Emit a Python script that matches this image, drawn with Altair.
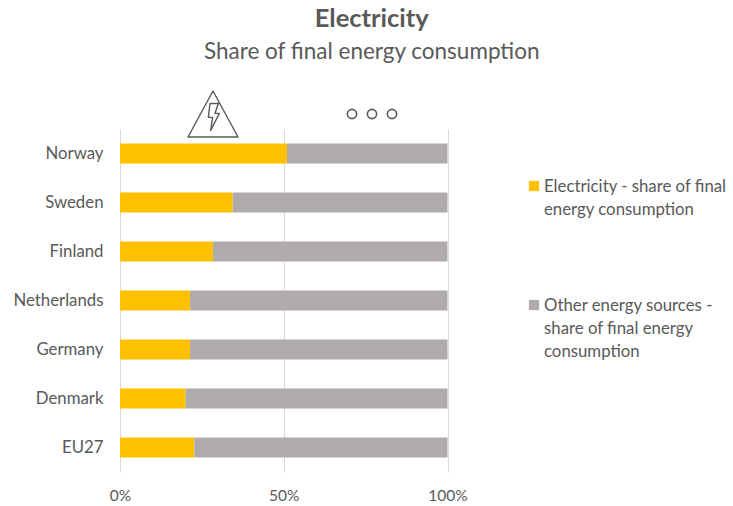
import altair as alt
import pandas as pd

countries = ["Norway", "Sweden", "Finland", "Netherlands", "Germany", "Denmark", "EU27"]
electricity = [51.0, 34.4, 28.4, 21.4, 21.4, 20.0, 22.7]
other_sources = [49.0, 65.6, 71.6, 78.6, 78.6, 80.0, 77.3]
series_names = [
    "Electricity - share of final energy consumption",
    "Other energy sources - share of final energy consumption",
]
x_ticks = [0, 50, 100]

FONT = "Lato"
TEXT = "#595959"
YELLOW = "#FFC000"
GREY = "#AFABAB"
LEFT, TOP, RIGHT, BOTTOM = 120, 129, 285.5, 34

rows = []
for i, name in enumerate(countries):
    rows.append({"country": name, "series": series_names[0], "share": electricity[i], "rank": 0})
    rows.append({"country": name, "series": series_names[1], "share": other_sources[i], "rank": 1})
table = pd.DataFrame(rows)

bars = (
    alt.Chart(table)
    .mark_bar()
    .encode(
        x=alt.X(
            "share:Q",
            stack="zero",
            scale=alt.Scale(domain=[0, 100], nice=False),
            axis=alt.Axis(
                values=x_ticks,
                title=None,
                labelExpr="datum.value + '%'",
                labelFlush=False,
                domain=False,
                ticks=False,
                grid=True,
                gridColor="#D9D9D9",
                gridWidth=1,
                labelFont=FONT,
                labelFontSize=15.5,
                labelColor=TEXT,
                labelPadding=16,
            ),
        ),
        y=alt.Y(
            "country:N",
            sort=countries,
            scale=alt.Scale(paddingInner=0.59, paddingOuter=0.295),
            axis=alt.Axis(
                title=None,
                domain=False,
                ticks=False,
                labelFont=FONT,
                labelFontSize=16.8,
                labelColor=TEXT,
                labelPadding=17,
            ),
        ),
        color=alt.Color(
            "series:N",
            scale=alt.Scale(domain=series_names, range=[YELLOW, GREY]),
            legend=None,
        ),
        order=alt.Order("rank:Q"),
    )
)

blank = alt.Data(values=[{}])


def at(px, py):
    # Page pixels converted to the plot's own coordinates
    return {"x": alt.value(px - LEFT), "y": alt.value(py - TOP)}


def key_entry(swatch, py, lines):
    square = alt.Chart(blank).mark_square(color=swatch, size=105, opacity=1).encode(**at(534, py))
    label = (
        alt.Chart(blank)
        .mark_text(
            text=lines,
            font=FONT,
            fontSize=16.8,
            color=TEXT,
            align="left",
            baseline="middle",
            lineHeight=23,
        )
        .encode(**at(544, py + 1))
    )
    return [square, label]


# Warning triangle with a lightning bolt inside
warning_path = (
    "M0,-0.46L0.5,0.46L-0.5,0.46Z"
    "M-0.06,-0.21L0.107,-0.21L0.04,-0.013L0.127,-0.013L-0.047,0.33L-0.007,0.067L-0.093,0.067Z"
)
warning = (
    alt.Chart(blank)
    .mark_point(shape=warning_path, size=10000, filled=False, stroke=TEXT, strokeWidth=1.4, strokeJoin="round", opacity=1)
    .encode(**at(213, 114))
)

# Row of three small rings
rings = [
    alt.Chart(blank)
    .mark_point(shape="circle", size=85, filled=False, stroke=TEXT, strokeWidth=1.6, opacity=1)
    .encode(**at(px, 114))
    for px in (352, 372, 392)
]

chart = (
    alt.layer(
        bars,
        warning,
        *rings,
        *key_entry(YELLOW, 186, ["Electricity - share of final", "energy consumption"]),
        *key_entry(GREY, 305, ["Other energy sources -", "share of final energy", "consumption"]),
    )
    .properties(
        width=733 - LEFT - RIGHT,
        height=506 - TOP - BOTTOM,
        padding={"left": LEFT, "top": TOP, "right": RIGHT, "bottom": BOTTOM},
        autosize=alt.AutoSizeParams(type="none"),
        title=alt.TitleParams(
            text="Electricity",
            subtitle="Share of final energy consumption",
            anchor="middle",
            frame="group",
            dx=88,
            offset=27,
            font=FONT,
            fontSize=25.5,
            fontWeight="bold",
            color=TEXT,
            subtitleFont=FONT,
            subtitleFontSize=22.5,
            subtitleColor=TEXT,
            subtitlePadding=8,
        ),
    )
    .configure_view(stroke=None)
)

chart.save("out.html", embed_options={"renderer": "svg", "actions": False})
